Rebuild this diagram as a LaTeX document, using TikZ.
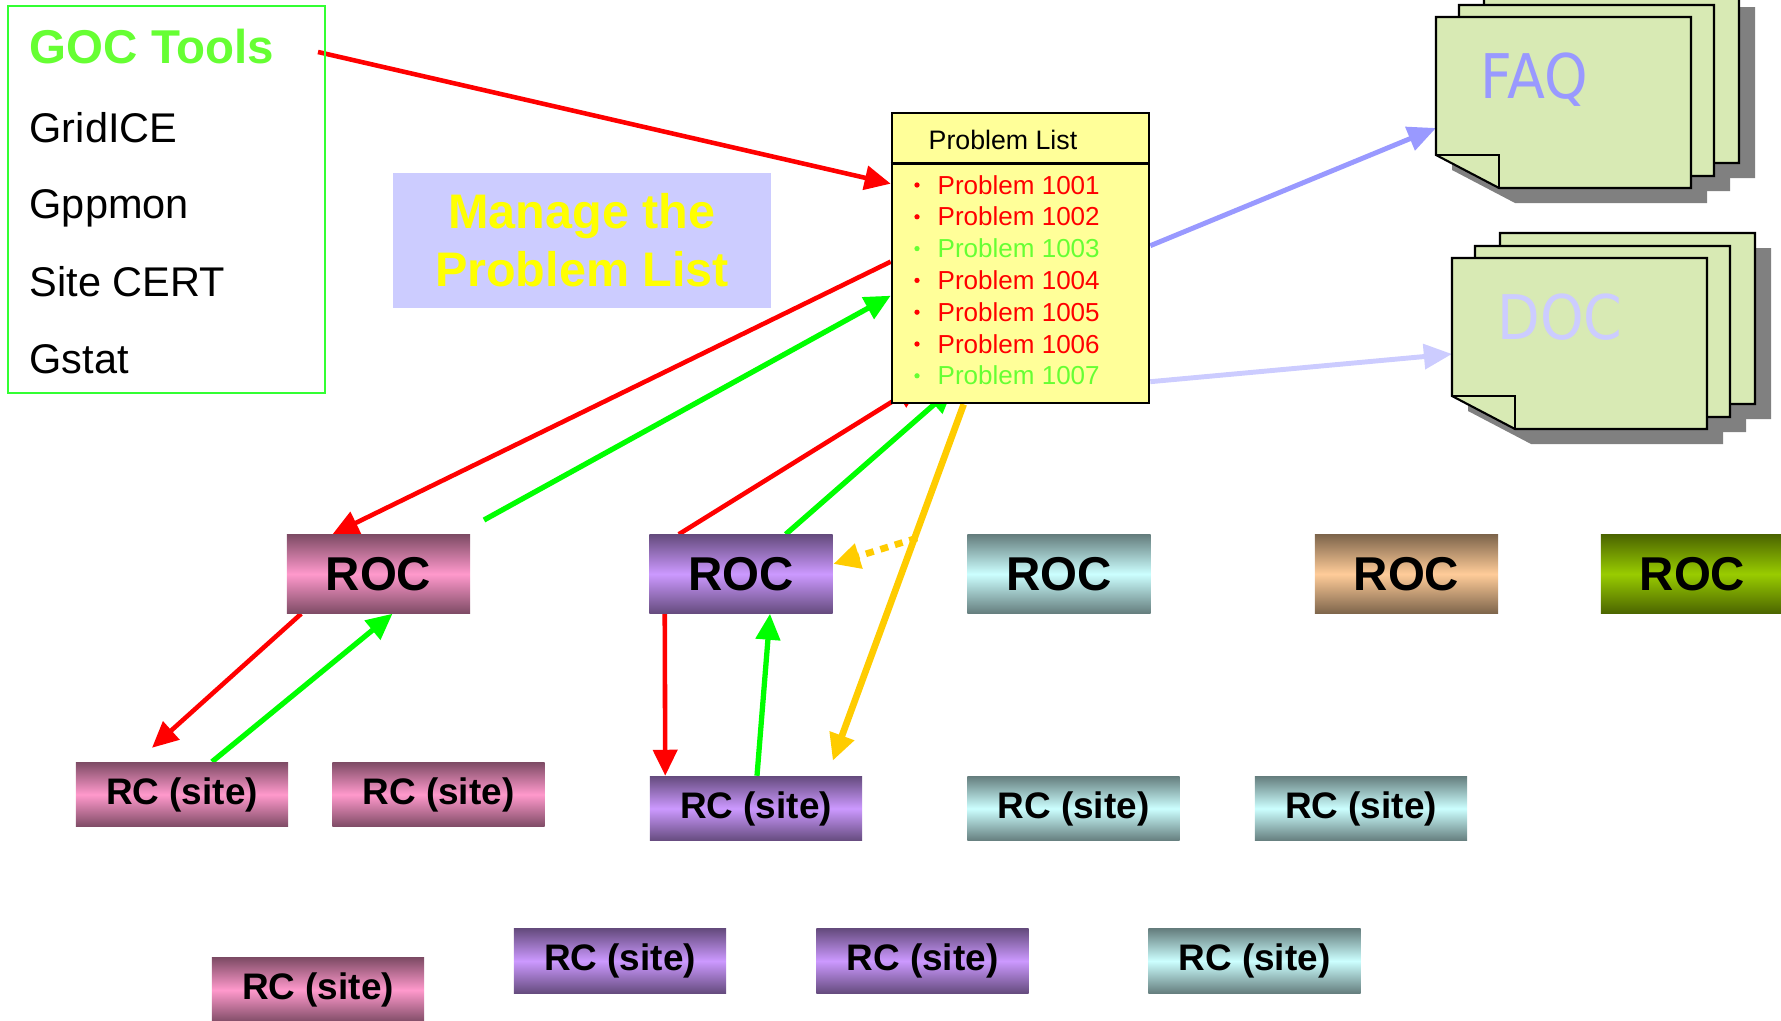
\documentclass[tikz,border=0pt]{standalone}
\usepackage{fontspec}
\setmainfont{Liberation Sans}
\newfontfamily\sheetfont[FakeStretch=0.9]{DejaVu Sans}
\usetikzlibrary{arrows.meta,calc}

\definecolor{gocgreen}{HTML}{66FF33}
\definecolor{boxgreen}{HTML}{33FF33}
\definecolor{arrowred}{HTML}{FF0000}
\definecolor{arrowgreen}{HTML}{00FF00}
\definecolor{arrowgold}{HTML}{FFCC00}
\definecolor{faqblue}{HTML}{9999FF}
\definecolor{docblue}{HTML}{CCCCFF}
\definecolor{plyellow}{HTML}{FFFF99}
\definecolor{managebg}{HTML}{CCCCFF}
\definecolor{manageyellow}{HTML}{FFFF00}
\definecolor{sheetgreen}{HTML}{D8EAB4}
\definecolor{shadowgray}{HTML}{808080}
\definecolor{pinklt}{HTML}{FF99CC}
\definecolor{pinkdk}{HTML}{7F4C66}
\definecolor{purplelt}{HTML}{CC99FF}
\definecolor{purpledk}{HTML}{664C7F}
\definecolor{cyanlt}{HTML}{CCFFFF}
\definecolor{cyandk}{HTML}{667F7F}
\definecolor{tanlt}{HTML}{FFCC99}
\definecolor{tandk}{HTML}{7F664C}
\definecolor{olivelt}{HTML}{99CC00}
\definecolor{olivedk}{HTML}{4C6600}

\pgfdeclarelayer{bg}
\pgfsetlayers{bg,main}

\tikzset{
  roc/.style={minimum width=1.83cm, minimum height=0.78cm, inner sep=0pt,
    font=\fontsize{13.5}{16}\selectfont\bfseries},
  rcsite/.style={minimum width=2.12cm, minimum height=0.64cm, inner sep=0pt,
    font=\fontsize{10.5}{12}\selectfont\bfseries},
  pinkbar/.style={top color=pinkdk, bottom color=pinkdk, middle color=pinklt},
  purplebar/.style={top color=purpledk, bottom color=purpledk, middle color=purplelt},
  cyanbar/.style={top color=cyandk, bottom color=cyandk, middle color=cyanlt},
  tanbar/.style={top color=tandk, bottom color=tandk, middle color=tanlt},
  olivebar/.style={top color=olivedk, bottom color=olivedk, middle color=olivelt},
  tool/.style={anchor=base west, inner sep=0pt, font=\fontsize{11.8}{14}\selectfont},
  probitem/.style={anchor=base west, inner sep=0pt, font=\fontsize{7.4}{9}\selectfont},
  redarrow/.style={draw=arrowred, line width=1.3pt, -{Triangle[length=7.4pt,width=6.8pt]}},
  greenarrow/.style={draw=arrowgreen, line width=1.5pt, -{Triangle[length=7.4pt,width=6.8pt]}},
  goldarrow/.style={draw=arrowgold, line width=1.9pt, -{Triangle[length=7.6pt,width=7pt]}},
  bluearrow/.style={line width=1.4pt, -{Triangle[length=8pt,width=7pt]}},
}

% one sheet of a stack and its shadow
\newcommand{\sheetshadow}[2]{%
  \fill[shadowgray] ({#1+16},{#2+15}) -- ++(255,0) -- ++(0,171) -- ++(-192,0) -- ++(-63,-33) -- cycle;}
\newcommand{\sheet}[2]{%
  \draw[fill=sheetgreen, line width=0.6pt] (#1,#2) -- ++(255,0) -- ++(0,171) -- ++(-192,0) -- ++(-63,-33) -- cycle;
  \draw[line width=0.6pt] (#1,{#2+138}) -- ++(63,0) -- ++(0,33);}

\begin{document}
\begin{tikzpicture}[x=0.01cm, y=-0.01cm]
\useasboundingbox (0,0) rectangle (1781,1021);

% tools
\node[draw=boxgreen, line width=0.6pt, minimum width=3.17cm, minimum height=3.87cm, inner sep=0pt] (gocbox) at (166.5,199.5) {};
\node[anchor=base west, inner sep=0pt, text=gocgreen, font=\fontsize{13.5}{16}\selectfont\bfseries] (goctitle) at (29,63) {GOC Tools};
\foreach \t/\y [count=\i] in {GridICE/142, Gppmon/218, Site CERT/296, Gstat/373}
  \node[tool] (tool\i) at (29,\y) {\t};
\coordinate (gocout) at (318,52);

\node[fill=managebg, minimum width=3.78cm, minimum height=1.35cm, align=center, text=manageyellow,
  font=\fontsize{13.8}{16.5}\selectfont\bfseries] (manage) at (582,240.5) {Manage the\\Problem List};

% problem list
\node[draw=black, line width=0.7pt, fill=plyellow, minimum width=2.57cm, minimum height=2.90cm, inner sep=0pt] (pl) at (1020.5,258) {};
\draw[line width=0.7pt] ($(pl.north west)+(0,52)$) -- ($(pl.north east)+(0,52)$);
\node[probitem, font=\fontsize{7.6}{9}\selectfont] (plhead) at (928,149) {Problem List};
\foreach \n/\c [count=\i] in {1001/arrowred, 1002/arrowred, 1003/gocgreen, 1004/arrowred, 1005/arrowred, 1006/arrowred, 1007/gocgreen} {
  \node[probitem, text=\c] (p\n) at (937,{194+31.8*(\i-1)}) {Problem \n};
  \fill[\c] (917,{185+31.8*(\i-1)}) circle[radius=0.75pt];
}

% FAQ and DOC stacks
\foreach \bx/\by in {1436/17, 1452/258} {
  \foreach \dx/\dy in {48/-25, 23/-12, 0/0}
    \sheetshadow{\bx+\dx}{\by+\dy};
  \foreach \dx/\dy in {48/-25, 23/-12, 0/0}
    \sheet{\bx+\dx}{\by+\dy};
}
\node[anchor=base west, inner sep=0pt, text=faqblue, font=\sheetfont\fontsize{17.5}{20}\selectfont] (faq) at (1480,98) {FAQ};
\node[anchor=base west, inner sep=0pt, text=docblue, font=\sheetfont\fontsize{17.5}{20}\selectfont] (doc) at (1497,339) {DOC};
\coordinate (faqin) at (1436,128);
\coordinate (docin) at (1452,354);

% ROCs
\node[roc, pinkbar] (roc1) at (378.5,574) {ROC};
\node[roc, purplebar] (roc2) at (741,574) {ROC};
\node[roc, cyanbar] (roc3) at (1059,574) {ROC};
\node[roc, tanbar] (roc4) at (1406.5,574) {ROC};
\node[roc, olivebar] (roc5) at (1692.5,574) {ROC};

% sites
\node[rcsite, pinkbar] (rc1) at (182,794.5) {RC (site)};
\node[rcsite, pinkbar] (rc2) at (438.5,794.5) {RC (site)};
\node[rcsite, purplebar] (rc3) at (756,808.5) {RC (site)};
\node[rcsite, cyanbar] (rc4) at (1073.5,808.5) {RC (site)};
\node[rcsite, cyanbar] (rc5) at (1361,808.5) {RC (site)};
\node[rcsite, pinkbar] (rc6) at (318,990) {RC (site)};
\node[rcsite, purplebar] (rc7) at (620,961) {RC (site)};
\node[rcsite, purplebar] (rc8) at (922.5,961) {RC (site)};
\node[rcsite, cyanbar] (rc9) at (1254.5,961) {RC (site)};

\coordinate (rocgreen) at (484,520);
\coordinate (dotstart) at (917,538);

\begin{pgfonlayer}{bg}
\draw[redarrow] (gocout) -- ($(pl.north west)+(0,72)$);
\draw[redarrow] ($(pl.north west)+(0,150)$) -- ($(roc1.north)+(-46,0)$);
\draw[greenarrow] (rocgreen) -- ($(pl.north west)+(0,184)$);
\draw[redarrow] ($(roc2.north west)+(30,0)$) -- ($(pl.south west)+(31,-21)$);
\draw[greenarrow] ($(roc2.north west)+(137,0)$) -- ($(pl.south west)+(63,-17)$);
\draw[goldarrow] ($(pl.south west)+(73,0)$) -- ($(rc3.north east)+(-30,-15)$);
\draw[goldarrow, dash pattern=on 2.3pt off 2pt] (dotstart) -- ($(roc2.east)+(0,-10)$);
\draw[redarrow] ($(roc1.south west)+(15,0)$) -- ($(rc1.north)+(-30,-14)$);
\draw[greenarrow] ($(rc1.north)+(30,0)$) -- ($(roc1.south)+(14,0)$);
\draw[redarrow] ($(roc2.south west)+(16,0)$) -- ($(rc3.north west)+(16,0)$);
\draw[greenarrow] ($(rc3.north)+(1,0)$) -- ($(roc2.south)+(29,0)$);
\draw[bluearrow, draw=faqblue] ($(pl.north east)+(0,134)$) -- (faqin);
\draw[bluearrow, draw=docblue] ($(pl.north east)+(0,270)$) -- (docin);
\end{pgfonlayer}
\end{tikzpicture}
\end{document}
